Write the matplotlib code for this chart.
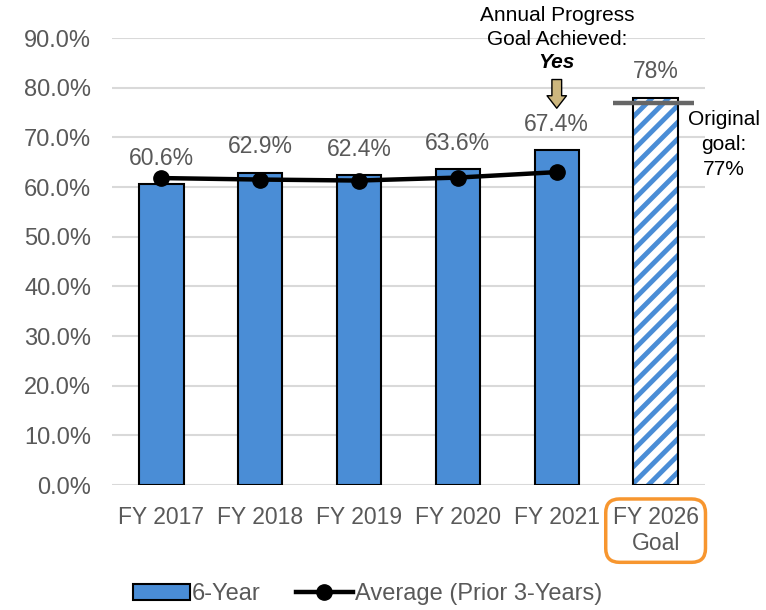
import matplotlib

matplotlib.use("Agg")
import matplotlib.pyplot as plt
from matplotlib.lines import Line2D
from matplotlib.patches import Patch

plt.rcParams["font.family"] = ["Liberation Sans", "DejaVu Sans"]
plt.rcParams["hatch.linewidth"] = 3.5

# --- data --------------------------------------------------------------------
categories = ["FY 2017", "FY 2018", "FY 2019", "FY 2020", "FY 2021", "FY 2026\nGoal"]
six_year = [60.6, 62.9, 62.4, 63.6, 67.4]
goal_value = 78.0
original_goal = 77.0
avg_prior3 = [61.8, 61.5, 61.3, 61.9, 63.0]
value_labels = ["60.6%", "62.9%", "62.4%", "63.6%", "67.4%"]

BLUE = "#4A8DD6"
GREY_TXT = "#595959"

fig = plt.figure(figsize=(7.66, 6.10), dpi=100)
ax = fig.add_axes([0.1462, 0.2049, 0.7742, 0.7328])

x = list(range(len(categories)))
w = 0.45
ax.bar(x[:5], six_year, width=w, color=BLUE, edgecolor="black", linewidth=1.5, zorder=2)

# hatched goal bar: blue stripes, black outline
ax.bar(x[5], goal_value, width=w, color="white", edgecolor=BLUE, hatch="//",
       linewidth=0, zorder=2)
ax.bar(x[5], goal_value, width=w, fill=False, edgecolor="black", linewidth=1.5, zorder=3)

ax.plot(x[:5], avg_prior3, color="black", lw=3.2, marker="o", ms=11, zorder=4)

# value labels
for xi, v, lab in zip(x[:5], six_year, value_labels):
    ax.annotate(lab, (xi, v), xytext=(0, 18.5), textcoords="offset points",
                ha="center", va="center", fontsize=16.5, color=GREY_TXT)
ax.annotate(f"{goal_value:.0f}%", (x[5], goal_value), xytext=(0, 18.5),
            textcoords="offset points", ha="center", va="center",
            fontsize=16.5, color=GREY_TXT)

# original goal line
ax.hlines(original_goal, 4.57, 5.39, color="#666666", lw=3.2, zorder=5, clip_on=False)
ax.text(5.69, 68.6, "Original\ngoal:\n77%", ha="center", va="center",
        fontsize=15, linespacing=1.4, color="black")

# annual progress annotation
ax.annotate("", xy=(4, 75.3), xytext=(4, 82.2),
            arrowprops=dict(arrowstyle="simple,head_width=1.4,head_length=0.9,tail_width=0.7",
                            fc="#CDB77E", ec="black", lw=1), annotation_clip=False)
ax.text(4, 85.0, "Yes", ha="center", va="center", fontsize=15,
        fontweight="bold", fontstyle="italic")
ax.text(4, 89.6, "Goal Achieved:", ha="center", va="center", fontsize=15)
ax.text(4, 94.6, "Annual Progress", ha="center", va="center", fontsize=15)

# axes styling
ax.set_xlim(-0.5, 5.5)
ax.set_ylim(0, 90)
ax.set_yticks(range(0, 91, 10))
ax.set_yticklabels([f"{t:.1f}%" for t in range(0, 91, 10)])
ax.set_xticks(x)
ax.set_xticklabels(categories)
ax.tick_params(length=0, labelsize=16.5, labelcolor=GREY_TXT)
ax.tick_params(axis="y", labelsize=17, pad=15)
ax.tick_params(axis="x", pad=15)
ax.grid(axis="y", color="#D9D9D9", lw=1.5, zorder=0)
ax.set_axisbelow(True)
for s in ["top", "right", "left", "bottom"]:
    ax.spines[s].set_visible(False)

ax.get_xticklabels()[5].set_bbox(dict(boxstyle="round,pad=0.3,rounding_size=0.6",
                                      fc="none", ec="#F7962F", lw=2.5))

handles = [Patch(fc=BLUE, ec="black", lw=1.5),
           Line2D([], [], color="black", lw=3.2, marker="o", ms=11)]
fig.legend(handles, ["6-Year", "Average (Prior 3-Years)"], loc="center",
           bbox_to_anchor=(0.48, 0.026), ncol=2, frameon=False, fontsize=17,
           labelcolor=GREY_TXT, handlelength=2.4, handletextpad=0.1,
           columnspacing=1.5)

fig.savefig("out.png", dpi=100)
